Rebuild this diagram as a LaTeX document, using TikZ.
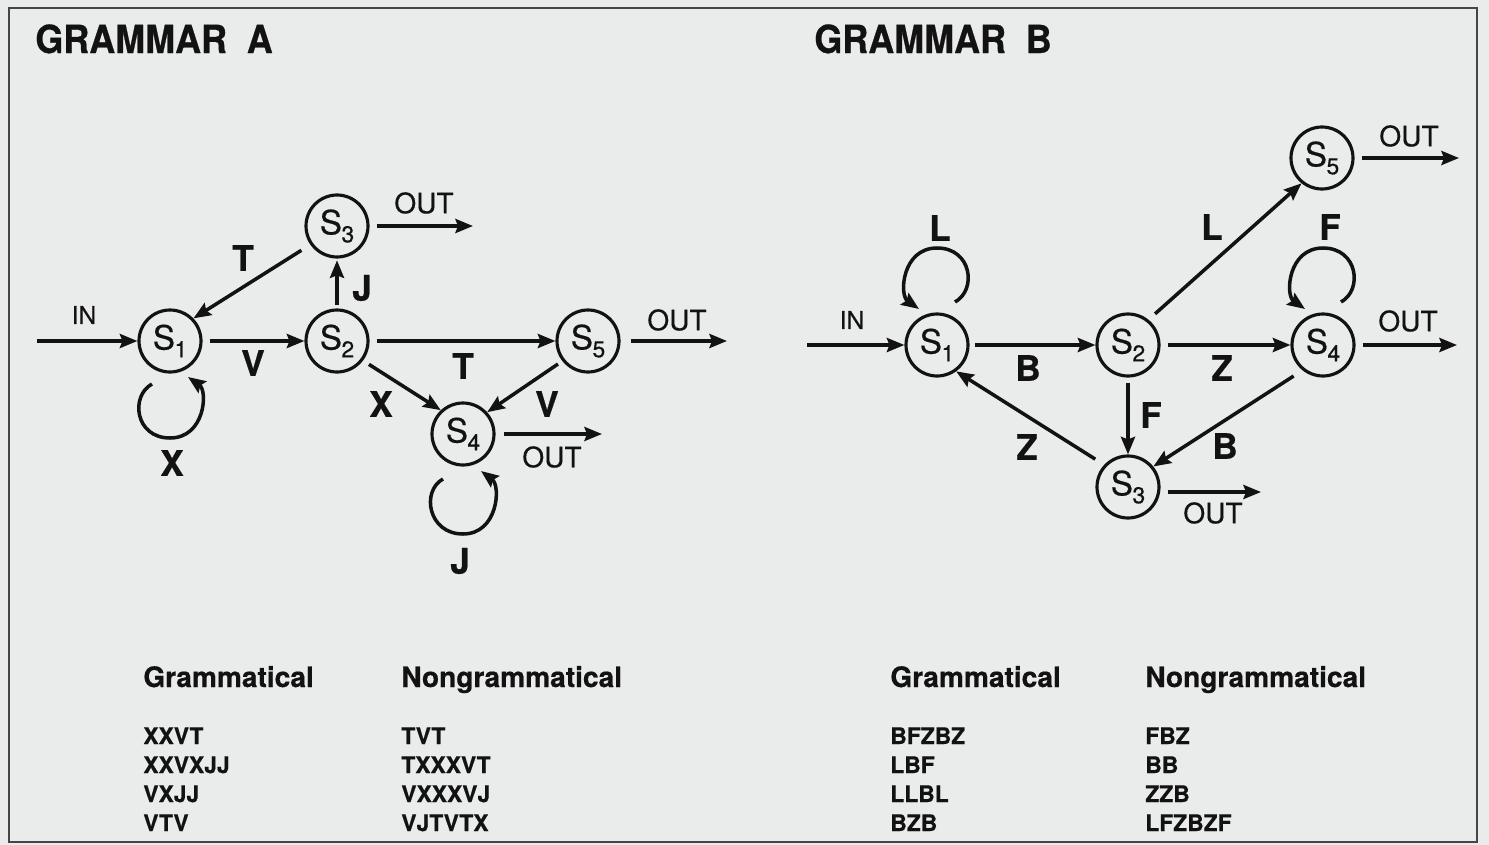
\documentclass[tikz,border=0pt]{standalone}
\usepackage{fontspec}
\setmainfont{TeX Gyre Heros}[UprightFeatures={FakeBold=0.5},BoldFeatures={FakeBold=0.6}]
\usetikzlibrary{arrows.meta,calc}
\definecolor{bg}{RGB}{234,235,235}
\definecolor{ink}{RGB}{18,18,18}
\definecolor{framec}{RGB}{70,70,70}
\newcommand\sname[1]{S\kern-0.3pt\raisebox{-4.5pt}{\fontsize{13}{13}\selectfont #1}}
\begin{document}
\begin{tikzpicture}[x=0.02cm,y=-0.02cm,
 state/.style={circle,draw=ink,line width=1.8pt,minimum size=1.24cm,inner sep=0pt,text=ink,font=\fontsize{19}{19}\selectfont},
 arr/.style={draw=ink,line width=2pt,-{Stealth[length=10pt,width=8pt,inset=1.5pt]}},
 elab/.style={inner sep=0pt,font=\fontsize{20}{20}\selectfont\bfseries,text=ink},
 outlab/.style={inner sep=0pt,font=\fontsize{16}{16}\selectfont,text=ink},
 inlab/.style={inner sep=0pt,font=\fontsize{14}{14}\selectfont,text=ink},
 ttl/.style={anchor=base west,inner sep=0pt,font=\fontsize{22}{22}\selectfont\bfseries,text=ink},
 hdr/.style={anchor=base west,inner sep=0pt,font=\fontsize{16}{16}\selectfont\bfseries,text=ink},
 strg/.style={anchor=base west,inner sep=0pt,font=\fontsize{13}{13}\selectfont\bfseries,text=ink},
]
\fill[bg] (0,0) rectangle (1489,845);
\draw[framec,line width=1pt] (9,8) rectangle (1477,842);

% ---------------- Grammar A ----------------
\node[ttl] (tA) at (35,53) {\scalebox{0.93}[1]{GRAMMAR\hspace{0.55em}A}};

\node[state] (A1) at (170,341) {\sname{1}};
\node[state] (A2) at (337,341) {\sname{2}};
\node[state] (A3) at (337,226) {\sname{3}};
\node[state] (A4) at (463,434) {\sname{4}};
\node[state] (A5) at (588,341) {\sname{5}};

\coordinate (Ain) at (37,341);
\coordinate (A3o) at (473,226);
\coordinate (A5o) at (727,341);
\coordinate (A4o) at (602,434);

\draw[arr] (Ain) -- (A1);
\draw[arr,shorten <=4pt] (A1) -- (A2);
\draw[arr,shorten <=6pt] (A3.215) -- (A1.44);
\draw[arr,shorten <=2pt,shorten >=1pt] (A2) -- (A3);
\draw[arr,shorten <=4pt] (A2) -- (A5);
\draw[arr,shorten <=4pt] (A2.-37) -- (A4.133);
\draw[arr,shorten <=3pt] (A5.218) -- (A4.42);
\draw[arr,shorten <=4pt] (A3) -- (A3o);
\draw[arr,shorten <=6pt] (A5) -- (A5o);
\draw[arr,shorten <=5pt] (A4) -- (A4o);

\draw[arr] ($(A1)+(-18,43)$) .. controls ($(A1)+(-40,55)$) and ($(A1)+(-35,97)$) .. ($(A1)+(0,97)$) .. controls ($(A1)+(35,97)$) and ($(A1)+(38,50)$) .. ($(A1)+(18,36)$);
\draw[arr] ($(A4)+(-20,45)$) .. controls ($(A4)+(-42,57)$) and ($(A4)+(-35,100)$) .. ($(A4)+(0,100)$) .. controls ($(A4)+(35,100)$) and ($(A4)+(38,52)$) .. ($(A4)+(18,37)$);

\node[inlab] (AinL) at (84,315) {IN};
\node[elab] (AvL) at (253,363) {V};
\node[elab] (AtL) at (243,258) {T};
\node[elab] (AjL) at (362,288) {J};
\node[outlab] (A3oL) at (424,203) {OUT};
\node[elab] (At2L) at (463,366) {T};
\node[elab] (AxL) at (381,404) {X};
\node[elab] (Av2L) at (547,404) {V};
\node[outlab] (A5oL) at (677,320) {OUT};
\node[outlab] (A4oL) at (552,457) {OUT};
\node[elab] (Ax2L) at (172,463) {X};
\node[elab] (Aj2L) at (460,561) {J};

% ---------------- Grammar B ----------------
\node[ttl] (tB) at (814,53) {\scalebox{0.93}[1]{GRAMMAR\hspace{0.55em}B}};

\node[state] (B1) at (937,345) {\sname{1}};
\node[state] (B2) at (1128,345) {\sname{2}};
\node[state] (B3) at (1128,487) {\sname{3}};
\node[state] (B4) at (1323,345) {\sname{4}};
\node[state] (B5) at (1322,158) {\sname{5}};

\coordinate (Bin) at (807,345);
\coordinate (B3o) at (1261,492);
\coordinate (B4o) at (1457,345);
\coordinate (B5o) at (1459,158);

\draw[arr] (Bin) -- (B1);
\draw[arr,shorten <=3pt] (B1) -- (B2);
\draw[arr,shorten <=4pt] (B2) -- (B4);
\draw[arr,shorten <=3pt] (B2) -- (B3);
\draw[arr,shorten <=5pt] (B2.51) -- (B5.231);
\draw[arr,shorten <=6pt] (B4.231) -- (B3.39);
\draw[arr,shorten <=6pt] (B3.137) -- (B1.-54);
\draw[arr] ($(B3.east)+(7,5)$) -- (B3o);
\draw[arr,shorten <=4pt] (B4) -- (B4o);
\draw[arr,shorten <=4pt] (B5) -- (B5o);

\draw[arr] ($(B1)+(18,-43)$) .. controls ($(B1)+(40,-55)$) and ($(B1)+(35,-97)$) .. ($(B1)+(0,-97)$) .. controls ($(B1)+(-35,-97)$) and ($(B1)+(-38,-50)$) .. ($(B1)+(-18,-36)$);
\draw[arr] ($(B4)+(18,-43)$) .. controls ($(B4)+(40,-55)$) and ($(B4)+(35,-97)$) .. ($(B4)+(0,-97)$) .. controls ($(B4)+(-35,-97)$) and ($(B4)+(-38,-50)$) .. ($(B4)+(-18,-36)$);

\node[inlab] (BinL) at (852,320) {IN};
\node[elab] (BbL) at (1028,368) {B};
\node[elab] (BlL) at (940,228) {L};
\node[elab] (Bl2L) at (1212,227) {L};
\node[elab] (BfL) at (1330,227) {F};
\node[elab] (BzL) at (1222,368) {Z};
\node[elab] (Bf2L) at (1151,415) {F};
\node[elab] (Bb2L) at (1225,446) {B};
\node[elab] (Bz2L) at (1027,447) {Z};
\node[outlab] (B3oL) at (1213,513) {OUT};
\node[outlab] (B4oL) at (1408,321) {OUT};
\node[outlab] (B5oL) at (1409,136) {OUT};

% ---------------- Tables ----------------
\node[hdr] (hA1) at (143,687) {Grammatical};
\node[hdr] (hA2) at (401,687) {Nongrammatical};
\node[strg] (ga1) at (143,744) {XXVT};
\node[strg] (ga2) at (143,773) {XXVXJJ};
\node[strg] (ga3) at (143,802) {VXJJ};
\node[strg] (ga4) at (143,831) {VTV};
\node[strg] (na1) at (401,744) {TVT};
\node[strg] (na2) at (401,773) {TXXXVT};
\node[strg] (na3) at (401,802) {VXXXVJ};
\node[strg] (na4) at (401,831) {VJTVTX};

\node[hdr] (hB1) at (890,687) {Grammatical};
\node[hdr] (hB2) at (1145,687) {Nongrammatical};
\node[strg] (gb1) at (890,744) {BFZBZ};
\node[strg] (gb2) at (890,773) {LBF};
\node[strg] (gb3) at (890,802) {LLBL};
\node[strg] (gb4) at (890,831) {BZB};
\node[strg] (nb1) at (1145,744) {FBZ};
\node[strg] (nb2) at (1145,773) {BB};
\node[strg] (nb3) at (1145,802) {ZZB};
\node[strg] (nb4) at (1145,831) {LFZBZF};
\end{tikzpicture}
\end{document}
